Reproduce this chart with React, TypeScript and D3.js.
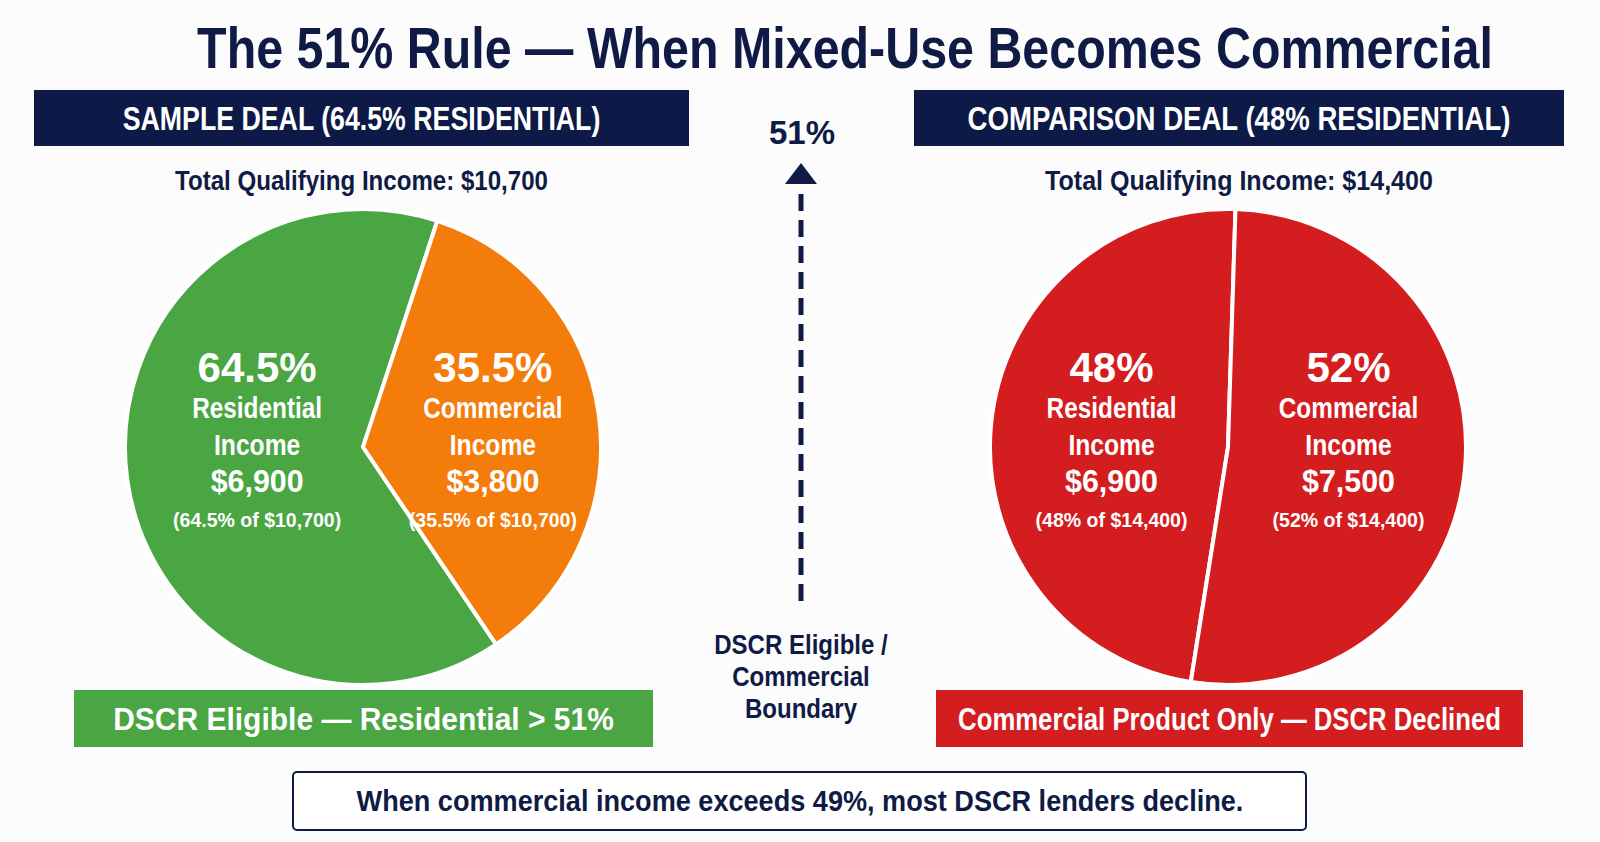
import React, { useEffect, useRef } from 'react';
import * as d3 from 'd3';

// chart content
const chartTitle = 'The 51% Rule — When Mixed-Use Becomes Commercial';
const dealNames = ['SAMPLE DEAL (64.5% RESIDENTIAL)', 'COMPARISON DEAL (48% RESIDENTIAL)'];
const dealTotals = [10700, 14400];
const incomeTypes = ['Residential', 'Commercial'];
const sampleShares = [64.5, 35.5];
const sampleIncome = [6900, 3800];
const comparisonShares = [48, 52];
const comparisonIncome = [6900, 7500];
const dealVerdicts = ['DSCR Eligible — Residential > 51%', 'Commercial Product Only — DSCR Declined'];
const boundaryPct = 51;
const boundaryNote = ['DSCR Eligible /', 'Commercial', 'Boundary'];
const footnote = 'When commercial income exceeds 49%, most DSCR lenders decline.';

const NAVY = '#0f1b45';
const GREEN = '#4aa543';
const ORANGE = '#f47c0b';
const RED = '#d41d1f';
const FONT = "'Liberation Sans', Arial, Helvetica, sans-serif";

const width = 1600;
const height = 842;

// per-deal layout
const dealLayout = [
    { shares: sampleShares, income: sampleIncome, colors: [GREEN, ORANGE], verdictColor: GREEN,
      cx: 363, headerX: [34, 689], headerW: 478, totalW: 373, barX: [74, 653], verdictW: 501, start: 146, shift: 12 },
    { shares: comparisonShares, income: comparisonIncome, colors: [RED, RED], verdictColor: RED,
      cx: 1228, headerX: [914, 1564], headerW: 543, totalW: 388, barX: [936, 1523], verdictW: 543, start: 189, shift: 2 },
];

type TextOpts = { size: number; fill: string; width?: number; k?: number };

// centred bold text, squeezed horizontally either to a given width or by a factor
const addText = (parent: any, x: number, y: number, txt: string, o: TextOpts) => {
    const t = parent.append('text')
        .attr('text-anchor', 'middle')
        .attr('font-family', FONT).attr('font-weight', 700)
        .attr('font-size', o.size)
        .attr('fill', o.fill)
        .text(txt);
    const w = (t.node() as SVGTextElement).getComputedTextLength();
    const k = o.width ? o.width / w : (o.k ?? 1);
    t.attr('transform', `translate(${x},${y}) scale(${k},1)`);
    return t;
};

const App: React.FC = () => {
    const svgRef = useRef<SVGSVGElement>(null);

    useEffect(() => {
        const svg = d3.select(svgRef.current);
        svg.selectAll('*').remove();

        svg.append('rect').attr('width', width).attr('height', height).attr('fill', '#fcfcfc');

        const money = d3.format('$,');

        addText(svg, 845, 68, chartTitle, { size: 57, fill: NAVY, width: 1296 });

        const cy = 447;
        const r = 238;

        dealLayout.forEach((deal, i) => {
            const g = svg.append('g');
            const hx = (deal.headerX[0] + deal.headerX[1]) / 2;

            // header band
            g.append('rect')
                .attr('x', deal.headerX[0]).attr('y', 90)
                .attr('width', deal.headerX[1] - deal.headerX[0]).attr('height', 56)
                .attr('fill', '#0d1a47');
            addText(g, hx, 130, dealNames[i], { size: 33, fill: '#fff', width: deal.headerW });

            addText(g, hx, 190, `Total Qualifying Income: ${money(dealTotals[i])}`,
                { size: 27, fill: NAVY, width: deal.totalW });

            // pie
            const a0 = (deal.start * Math.PI) / 180;
            const pie = d3.pie<number>().sort(null).value(d => d).startAngle(a0).endAngle(a0 + 2 * Math.PI);
            const arcs = pie(deal.shares);
            const arc = d3.arc<d3.PieArcDatum<number>>().innerRadius(0).outerRadius(r);
            const labelArc = d3.arc<d3.PieArcDatum<number>>().innerRadius(r * 0.5).outerRadius(r * 0.5);

            const pg = g.append('g').attr('transform', `translate(${deal.cx},${cy})`);
            pg.selectAll('path')
                .data(arcs)
                .enter().append('path')
                .attr('d', arc)
                .attr('fill', (d, j) => deal.colors[j])
                .attr('stroke', '#fff')
                .attr('stroke-width', 4)
                .attr('stroke-linejoin', 'round');

            arcs.forEach((d, j) => {
                const lx = labelArc.centroid(d)[0] + deal.shift;
                addText(pg, lx, -65, `${deal.shares[j]}%`, { size: 42, fill: '#fff', k: 1.0 });
                addText(pg, lx, -29, incomeTypes[j], { size: 29, fill: '#fff', k: 0.84 });
                addText(pg, lx, 8, 'Income', { size: 29, fill: '#fff', k: 0.85 });
                addText(pg, lx, 45, money(deal.income[j]), { size: 31, fill: '#fff', k: 0.98 });
                addText(pg, lx, 80, `(${deal.shares[j]}% of ${money(dealTotals[i])})`,
                    { size: 21, fill: '#fff', k: 0.93 });
            });

            // verdict bar
            g.append('rect')
                .attr('x', deal.barX[0]).attr('y', 690)
                .attr('width', deal.barX[1] - deal.barX[0]).attr('height', 57)
                .attr('fill', deal.verdictColor);
            addText(g, (deal.barX[0] + deal.barX[1]) / 2, 730, dealVerdicts[i],
                { size: 32, fill: '#fff', width: deal.verdictW });
        });

        // 51% boundary marker
        const mx = 801;
        addText(svg, mx + 1, 144, `${boundaryPct}%`, { size: 33, fill: NAVY });
        svg.append('path')
            .attr('d', `M${mx},163L${mx + 16},184L${mx - 16},184Z`)
            .attr('fill', NAVY);
        svg.append('line')
            .attr('x1', mx).attr('x2', mx)
            .attr('y1', 194).attr('y2', 610)
            .attr('stroke', NAVY).attr('stroke-width', 5)
            .attr('stroke-dasharray', '17 9');
        boundaryNote.forEach((line, j) => {
            addText(svg, mx, 654 + j * 32, line, { size: 27, fill: NAVY, k: 0.89 });
        });

        // footnote box
        svg.append('rect')
            .attr('x', 293).attr('y', 772)
            .attr('width', 1013).attr('height', 58)
            .attr('rx', 4)
            .attr('fill', '#fff')
            .attr('stroke', NAVY).attr('stroke-width', 2);
        addText(svg, 800, 811, footnote, { size: 30, fill: NAVY, width: 887 });
    }, []);

    return (
        <svg ref={svgRef} width={width} height={height}
            style={{ position: 'absolute', left: 0, top: 0, display: 'block' }}></svg>
    );
};

export default App;
